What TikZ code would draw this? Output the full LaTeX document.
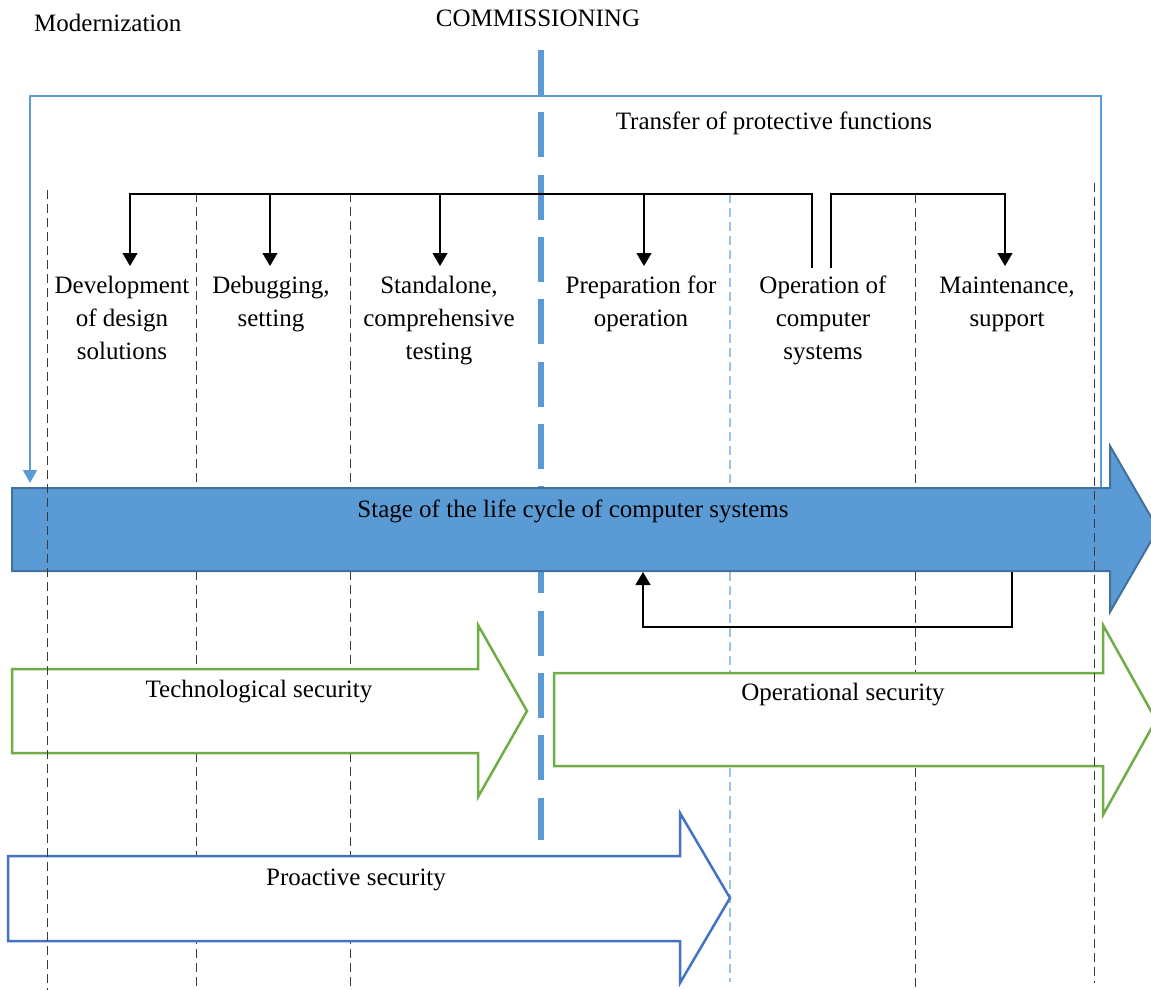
\documentclass[tikz,border=0pt]{standalone}
\usepackage{fontspec}
\setmainfont{Liberation Serif}
\usetikzlibrary{arrows.meta}
\definecolor{stageblue}{HTML}{5B9BD5}
\definecolor{stageedge}{HTML}{41719C}
\definecolor{framecol}{HTML}{5B9BD5}
\definecolor{secgreen}{HTML}{70AD47}
\definecolor{problue}{HTML}{4472C4}
\definecolor{guideblue}{HTML}{9DC3E6}
\definecolor{guidegray}{HTML}{3A3A3A}
\newcommand\stacklines[1]{\begin{tabular}[t]{@{}c@{}}#1\end{tabular}}
\begin{document}
\begin{tikzpicture}[x=1pt,y=-1pt,
  lbl/.style={font=\fontsize{25}{33}\selectfont, inner sep=0pt, anchor=base},
  guide/.style={guidegray, line width=1pt, dash pattern=on 9pt off 5pt},
  guidelight/.style={guideblue, line width=1.2pt, dash pattern=on 9pt off 5pt},
  milestone/.style={stageblue, line width=5.5pt, dash pattern=on 45pt off 17.3pt},
  feed/.style={black, line width=1.2pt},
  feedarrow/.style={feed, -{Triangle[width=15pt,length=13pt]}},
  framearrow/.style={framecol, line width=1.3pt, -{Triangle[width=14pt,length=13pt]}},
  stagearrow/.style={fill=stageblue, draw=stageedge, line width=2pt, line join=miter},
  greenarrow/.style={fill=white, draw=secgreen, line width=2.5pt, line join=miter},
  proarrow/.style={fill=white, draw=problue, line width=2.5pt, line join=miter}
]
\useasboundingbox (0,0) rectangle (1151,990);

% phase boundaries lying behind the arrows
\draw[guide] (196,193) -- (196,990);
\draw[guide] (350,193) -- (350,990);
\draw[guidelight] (730,194) -- (730,982);
\draw[guide] (915,194) -- (915,990);

% commissioning milestone
\draw[milestone] (541,50) -- (541,840);

% life cycle arrow
\draw[stagearrow] (12,488) -- (1110,488) -- (1110,446) -- (1158,529)
  -- (1110,612) -- (1110,571) -- (12,571) -- cycle;
\node[lbl] (stage) at (573,517) {Stage of the life cycle of computer systems};

% security arrows
\draw[greenarrow] (12,669) -- (478,669) -- (478,625) -- (527,711)
  -- (478,797) -- (478,753) -- (12,753) -- cycle;
\node[lbl] (tech) at (259,697) {Technological security};

\draw[greenarrow] (554,673) -- (1103,673) -- (1103,625) -- (1156,720)
  -- (1103,815) -- (1103,766) -- (554,766) -- cycle;
\node[lbl] (oper) at (843,700) {Operational security};

\draw[proarrow] (8,856) -- (680,856) -- (680,813) -- (730,898)
  -- (680,983) -- (680,941) -- (8,941) -- cycle;
\node[lbl] (proact) at (356,885) {Proactive security};

% outer boundaries drawn on top
\draw[guide] (47,190) -- (47,990);
\draw[guide] (1094,183) -- (1094,983);

% headings
\node[lbl, anchor=base west] (modern) at (34,32) {Modernization};
\node[lbl] (commiss) at (538,27) {COMMISSIONING};
\node[lbl] (transfer) at (774,129) {Transfer of protective functions};

% stage labels
\node[lbl] (dev) at (122,293) {\stacklines{Development\\of design\\solutions}};
\node[lbl] (dbg) at (271,293) {\stacklines{Debugging,\\setting}};
\node[lbl] (tst) at (439,293) {\stacklines{Standalone,\\comprehensive\\testing}};
\node[lbl] (prep) at (641,293) {\stacklines{Preparation for\\operation}};
\node[lbl] (opr) at (823,293) {\stacklines{Operation of\\computer\\systems}};
\node[lbl] (mnt) at (1007,293) {\stacklines{Maintenance,\\support}};

% connector ends
\coordinate (devtip) at (130,266);
\coordinate (dbgtip) at (270,266);
\coordinate (tsttip) at (440,266);
\coordinate (preptip) at (644,266);
\coordinate (mnttip) at (1005,266);
\coordinate (hubL) at (812,268);
\coordinate (hubR) at (831,268);
\coordinate (busdbg) at (270,194);
\coordinate (bustst) at (440,194);
\coordinate (busprep) at (644,194);
\coordinate (fbstart) at (1012,572);
\coordinate (fbend) at (643,572);
\coordinate (frameR) at (1101,487);
\coordinate (frametip) at (30,483);

% distribution of work from operation
\draw[feedarrow] (hubL) |- (130,194) -- (devtip);
\draw[feedarrow] (busdbg) -- (dbgtip);
\draw[feedarrow] (bustst) -- (tsttip);
\draw[feedarrow] (busprep) -- (preptip);
\draw[feedarrow] (hubR) |- (1005,194) -- (mnttip);

% feedback under the life cycle arrow
\draw[feedarrow] (fbstart) |- (643,627) -- (fbend);

% transfer of protective functions
\draw[framearrow] (frameR) |- (30,96) -- (frametip);
\end{tikzpicture}
\end{document}
